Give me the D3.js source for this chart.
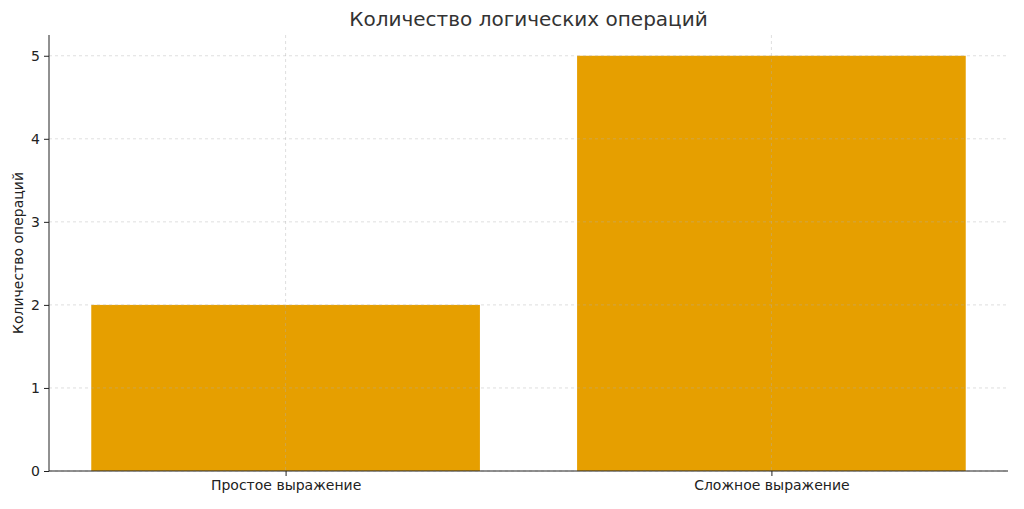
<!DOCTYPE html>
<html><head><meta charset="utf-8">
<script src="https://cdn.jsdelivr.net/npm/d3@7"></script>
<style>body{margin:0;background:#fff;font-family:"DejaVu Sans",sans-serif}</style>
</head><body>
<svg id="chart" width="1024" height="509"></svg>
<script>
// chart data
var categories = ["Простое выражение", "Сложное выражение"];
var values = [2, 5];
var yTicks = [0, 1, 2, 3, 4, 5];

var svg = d3.select("#chart");
var mLeft = 49, mRight = 1008, mTop = 35, mBottom = 471;

var x = d3.scaleLinear().domain([-0.487, 1.487]).range([mLeft, mRight]);
var y = d3.scaleLinear().domain([0, 5.25]).range([mBottom, mTop]);

// bars
svg.append("g").selectAll("rect").data(values).join("rect")
  .attr("x", (d, i) => x(i - 0.4))
  .attr("width", x(0.4) - x(-0.4))
  .attr("y", d => y(d))
  .attr("height", d => y(0) - y(d))
  .attr("fill", "#E69F00");

// grid drawn faintly on top, like matplotlib
svg.append("g").selectAll("line").data(yTicks).join("line")
  .attr("x1", mLeft).attr("x2", mRight)
  .attr("y1", d => y(d)).attr("y2", d => y(d))
  .attr("stroke", "#b0b0b0").attr("stroke-opacity", 0.5).attr("stroke-dasharray", "3,3").attr("stroke-width", 0.8);
svg.append("g").selectAll("line").data(categories).join("line")
  .attr("x1", (d, i) => x(i)).attr("x2", (d, i) => x(i))
  .attr("y1", mTop).attr("y2", mBottom)
  .attr("stroke", "#b0b0b0").attr("stroke-opacity", 0.5).attr("stroke-dasharray", "3,3").attr("stroke-width", 0.8);

// axes
var yAxis = d3.axisLeft(y).tickValues(yTicks).tickFormat(d3.format("d")).tickSize(5).tickPadding(4);
var gy = svg.append("g").attr("transform", "translate(" + mLeft + ",0)").call(yAxis);
var xAxis = d3.axisBottom(x).tickValues([0, 1]).tickFormat(i => categories[i]).tickSize(5).tickPadding(4);
var gx = svg.append("g").attr("transform", "translate(0," + mBottom + ")").call(xAxis);
[gy, gx].forEach(function(g) {
  g.selectAll("text").attr("font-size", 14).attr("font-family", "DejaVu Sans").attr("fill", "#222");
  g.selectAll("line,path").attr("stroke", "#222");
});
gy.select(".domain").attr("d", "M0," + mTop + "V" + mBottom);
gx.select(".domain").attr("d", "M" + mLeft + ",0H" + mRight);

// labels
svg.append("text").attr("x", (mLeft + mRight) / 2).attr("y", 26)
  .attr("text-anchor", "middle").attr("font-size", 20).attr("fill", "#333")
  .text("Количество логических операций");
svg.append("text").attr("transform", "translate(23," + (mTop + mBottom) / 2 + ") rotate(-90)")
  .attr("text-anchor", "middle").attr("font-size", 14).attr("fill", "#222")
  .text("Количество операций");
</script>
</body></html>
